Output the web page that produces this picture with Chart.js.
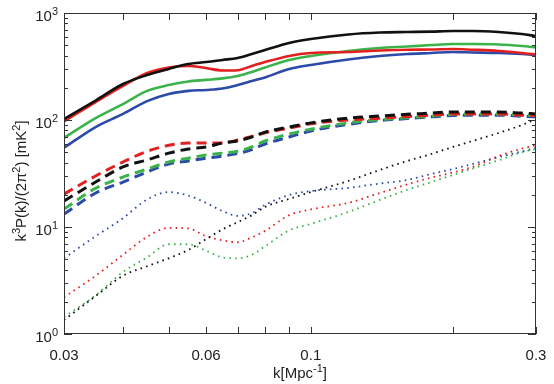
<!DOCTYPE html>
<html>
<head>
<meta charset="utf-8">
<script src="https://cdn.jsdelivr.net/npm/chart.js@4.4.1/dist/chart.umd.min.js"></script>
<style>
  html, body { margin: 0; padding: 0; background: #fff; }
  #wrap { width: 554px; height: 384px; position: relative; }
</style>
</head>
<body>
<div id="wrap"><canvas id="powerChart"></canvas></div>
<script>
// wavenumbers k [Mpc^-1]
const kValues = [0.03, 0.035, 0.04, 0.045, 0.05, 0.055, 0.06, 0.065, 0.07, 0.075, 0.08, 0.09,
                 0.1, 0.12, 0.14, 0.16, 0.18, 0.2, 0.22, 0.25, 0.28, 0.3];

// solid curves
const blackSolid = [102, 152, 217, 263, 300, 334, 348, 364, 380, 414, 451, 525, 571, 630, 657, 664, 670, 679, 679, 664, 636, 609];
const redSolid   = [97, 147, 208, 275, 310, 320, 306, 290, 292, 320, 348, 397, 423, 432, 446, 454, 456, 461, 454, 442, 423, 409];
const greenSolid = [68, 104, 141, 187, 212, 229, 237, 245, 258, 281, 310, 364, 397, 442, 471, 486, 502, 513, 513, 508, 491, 476];
const blueSolid  = [55, 86, 114, 150, 175, 187, 191, 197, 212, 231, 250, 300, 327, 368, 397, 414, 423, 432, 428, 423, 414, 405];

// dashed curves
const blackDash = [17.5, 26.3, 36.4, 42.3, 49, 53.6, 56, 61, 63.6, 69.4, 77, 86, 94, 104, 109, 113, 116, 119, 119, 119, 116, 114];
const redDash   = [20.3, 30, 40.5, 51, 58, 61, 61, 61, 65, 70, 76, 84, 92, 100, 104, 108, 111, 114, 114, 114, 111, 111];
const greenDash = [14.7, 23, 29.3, 34.8, 40.5, 44, 47, 49, 51, 56, 63.6, 74, 82, 94, 101, 105, 109, 113, 114, 114, 111, 110];
const blueDash  = [13.2, 20.8, 26.3, 32.7, 38.8, 41.4, 44, 46, 48.6, 53, 59.7, 69.4, 79, 91, 99, 103, 107, 110, 111, 111, 108.5, 107];

// dotted curves
const blackDot = [1.35, 2.26, 3.5, 4.3, 5.1, 6.1, 7.7, 9.5, 11.1, 12.9, 15.4, 18.3, 21.2, 26.9, 34.1, 41.4, 48.1, 56, 63.6, 75.6, 89.8, 102];
const redDot   = [2.2, 3.5, 5.5, 8.1, 9.8, 9.7, 8.2, 7.5, 7.2, 8.0, 9.2, 12.9, 14.6, 16.8, 20.8, 25, 29, 32.3, 36.4, 46, 54, 58];
const greenDot = [1.44, 2.3, 3.8, 5.2, 6.9, 6.9, 6.0, 5.2, 5.1, 5.5, 6.6, 9.3, 10.7, 13.8, 17.9, 22.2, 26.3, 30.6, 35.2, 42, 50, 53.6];
const blueDot  = [5.1, 8.2, 12.1, 18.1, 21.2, 19.7, 16.8, 14.1, 12.7, 13.5, 16.1, 19.9, 21.7, 23.2, 25.5, 27.5, 31.3, 34.8, 38.8, 45, 50.8, 54.7];

// axis ticks
const xTicks = [0.03, 0.04, 0.05, 0.06, 0.07, 0.08, 0.09, 0.1, 0.2, 0.3];
const xTickLabels = { 0.03: '0.03', 0.06: '0.06', 0.1: '0.1', 0.3: '0.3' };
const yDecades = [0, 1, 2, 3];

const COLORS = { black: '#111111', red: '#e3201f', green: '#3bb34a', blue: '#2c4aa8' };
const FONT = '"Liberation Sans", Arial, Helvetica, sans-serif';

function toPoints(arr) {
  return arr.map((v, i) => ({ x: kValues[i], y: v }));
}

function series(values, color, style) {
  const ds = {
    data: toPoints(values),
    borderColor: color,
    backgroundColor: color,
    pointRadius: 0,
    fill: false,
    cubicInterpolationMode: 'monotone'
  };
  if (style === 'solid') {
    ds.borderWidth = 2.6;
  } else if (style === 'dash') {
    ds.borderWidth = 3;
    ds.borderDash = [10, 6];
  } else {
    ds.borderWidth = 1.8;
    ds.borderDash = [1.6, 4.2];
  }
  return ds;
}

// draw text with superscript pieces: parts = [[text, isSup], ...]
function drawRich(ctx, parts, x, y, align, size, supSize) {
  let total = 0;
  const widths = parts.map(p => {
    ctx.font = (p[1] ? supSize : size) + 'px ' + FONT;
    const w = ctx.measureText(p[0]).width;
    total += w;
    return w;
  });
  let cx = align === 'center' ? x - total / 2 : (align === 'right' ? x - total : x);
  ctx.textAlign = 'left';
  ctx.textBaseline = 'alphabetic';
  parts.forEach((p, i) => {
    ctx.font = (p[1] ? supSize : size) + 'px ' + FONT;
    ctx.fillText(p[0], cx, p[1] ? y - size * 0.42 : y);
    cx += widths[i];
  });
}

// frame, inward ticks, y tick labels and axis titles
const framePlugin = {
  id: 'frame',
  afterDraw(chart) {
    const ctx = chart.ctx;
    const { left, right, top, bottom } = chart.chartArea;
    const xs = chart.scales.x;
    const ys = chart.scales.y;
    ctx.save();
    ctx.strokeStyle = '#333';
    ctx.lineWidth = 1;
    ctx.strokeRect(left + 0.5, top + 0.5, right - left - 1, bottom - top - 1);

    ctx.beginPath();
    xTicks.forEach(v => {
      const px = Math.round(xs.getPixelForValue(v)) + 0.5;
      ctx.moveTo(px, bottom); ctx.lineTo(px, bottom - 7);
      ctx.moveTo(px, top); ctx.lineTo(px, top + 7);
    });
    yDecades.forEach(e => {
      for (let m = 1; m <= 9; m++) {
        const v = m * Math.pow(10, e);
        if (v > 1000) break;
        const py = Math.round(ys.getPixelForValue(v)) + 0.5;
        const len = m === 1 ? 8 : 4;
        ctx.moveTo(left, py); ctx.lineTo(left + len, py);
        ctx.moveTo(right, py); ctx.lineTo(right - len, py);
      }
    });
    ctx.stroke();

    // y tick labels 10^n
    ctx.fillStyle = '#222';
    yDecades.forEach(e => {
      const py = ys.getPixelForValue(Math.pow(10, e));
      drawRich(ctx, [['10', false], [String(e), true]], left - 6, py + 8, 'right', 15, 11);
    });

    // axis titles
    drawRich(ctx, [['k[Mpc', false], ['-1', true], [']', false]], (left + right) / 2, 378, 'center', 15, 11);
    ctx.translate(26, 181);
    ctx.rotate(-Math.PI / 2);
    drawRich(ctx, [['k', false], ['3', true], ['P(k)/(2\u03c0', false], ['2', true], [') [mK', false], ['2', true], [']', false]],
             0, 0, 'center', 15, 11);
    ctx.restore();
  }
};

const ctx = document.getElementById('powerChart').getContext('2d');
const chart = new Chart(ctx, {
  type: 'line',
  data: {
    datasets: [
      series(blackSolid, COLORS.black, 'solid'),
      series(redSolid, COLORS.red, 'solid'),
      series(greenSolid, COLORS.green, 'solid'),
      series(blueSolid, COLORS.blue, 'solid'),
      series(blackDash, COLORS.black, 'dash'),
      series(redDash, COLORS.red, 'dash'),
      series(greenDash, COLORS.green, 'dash'),
      series(blueDash, COLORS.blue, 'dash'),
      series(blackDot, COLORS.black, 'dot'),
      series(redDot, COLORS.red, 'dot'),
      series(greenDot, COLORS.green, 'dot'),
      series(blueDot, COLORS.blue, 'dot')
    ]
  },
  options: {
    responsive: true,
    maintainAspectRatio: false,
    animation: false,
    devicePixelRatio: 1,
    layout: { padding: { left: 0, right: 18, top: 13, bottom: 0 } },
    plugins: {
      legend: { display: false },
      tooltip: { enabled: false }
    },
    scales: {
      x: {
        type: 'logarithmic',
        min: 0.03,
        max: 0.3,
        grid: { display: false },
        border: { display: false },
        afterBuildTicks: scale => { scale.ticks = xTicks.map(v => ({ value: v })); },
        afterFit: scale => { scale.height = 50; },
        ticks: {
          autoSkip: false,
          maxRotation: 0,
          padding: 5,
          color: '#222',
          font: { family: FONT, size: 15 },
          callback: v => xTickLabels[v] || ''
        }
      },
      y: {
        type: 'logarithmic',
        min: 1,
        max: 1000,
        grid: { display: false },
        border: { display: false },
        ticks: { display: false },
        afterFit: scale => { scale.width = 64; }
      }
    }
  },
  plugins: [framePlugin]
});
</script>
</body>
</html>
